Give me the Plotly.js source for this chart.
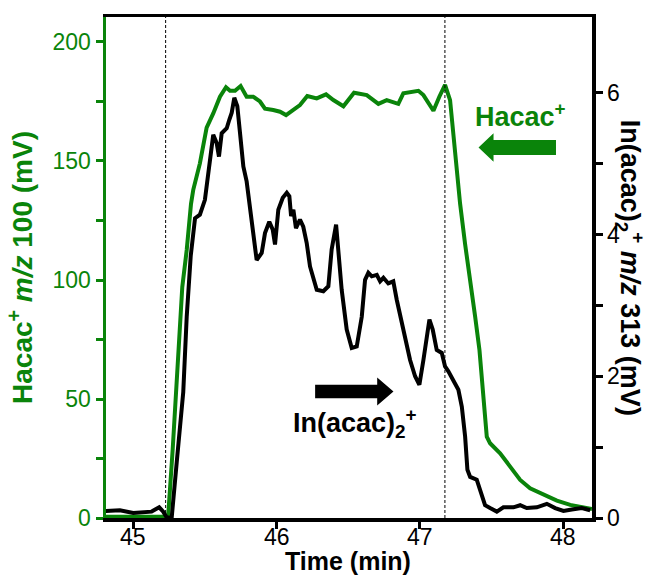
<!DOCTYPE html>
<html>
<head>
<meta charset="utf-8">
<script src="https://cdn.plot.ly/plotly-3.0.1.min.js"></script>
<style>html,body{margin:0;padding:0;background:#fff;}#chart{width:651px;height:577px;}</style>
</head>
<body>
<div id="chart"></div>
<script>
// Hacac+ m/z 100 (left axis, mV)
const hacacTime = [44.81,45.12,45.20,45.244,45.275,45.342,45.373,45.403,45.419,45.465,45.512,45.558,45.605,45.647,45.675,45.710,45.749,45.791,45.837,45.884,45.919,45.977,46.024,46.066,46.117,46.163,46.214,46.280,46.345,46.396,46.466,46.540,46.629,46.710,46.768,46.849,46.884,46.989,47.024,47.094,47.135,47.175,47.210,47.233,47.257,47.280,47.315,47.338,47.350,47.385,47.415,47.438,47.466,47.489,47.559,47.629,47.699,47.768,47.861,47.955,48.048,48.164,48.20];
const hacacSignal = [0.5,0.8,0.5,1.2,28.6,97,112.6,132,138,149,164,170,177,181,179.5,179.5,181.5,177,177,175,172,171.4,170.7,169.3,171.4,173.5,177.3,176.3,178,175.6,173,178.7,177.7,174,175.6,174,178.4,179.5,177.7,171.1,177,182,175.6,160,146,132,115,104,98.7,84.6,70.6,53.8,34.2,31.4,27.2,21.6,16,12.5,9.7,7.3,5.5,4.1,3.8];

// In(acac)2+ m/z 313 (right axis, mV)
const inTime = [44.809,44.907,45.0,45.068,45.128,45.181,45.209,45.233,45.268,45.303,45.314,45.349,45.373,45.401,45.431,45.465,45.500,45.523,45.558,45.582,45.598,45.617,45.652,45.670,45.687,45.705,45.726,45.745,45.768,45.791,45.814,45.837,45.861,45.896,45.919,45.949,45.973,45.989,46.012,46.043,46.071,46.089,46.101,46.117,46.135,46.163,46.186,46.210,46.233,46.280,46.326,46.361,46.384,46.415,46.431,46.454,46.489,46.524,46.559,46.594,46.617,46.640,46.664,46.699,46.722,46.745,46.779,46.814,46.838,46.884,46.931,46.966,46.996,47.024,47.066,47.089,47.117,47.152,47.175,47.198,47.222,47.268,47.292,47.315,47.331,47.350,47.396,47.419,47.454,47.489,47.536,47.582,47.652,47.699,47.745,47.815,47.885,47.943,48.001,48.059,48.129,48.187];
const inSignal = [0.10,0.11,0.07,0.08,0.09,0.15,0.09,0.01,0.0,0.78,1.0,1.78,2.84,3.7,4.23,4.28,4.49,4.87,5.41,5.29,5.10,5.43,5.50,5.62,5.72,5.93,5.81,5.43,4.96,4.75,4.40,3.97,3.64,3.74,4.02,4.18,4.07,3.86,4.35,4.52,4.59,4.54,4.26,4.35,4.09,4.21,4.11,3.88,3.55,3.22,3.20,3.27,3.79,4.14,3.74,3.22,2.66,2.40,2.42,2.84,3.36,3.46,3.41,3.43,3.34,3.39,3.31,3.34,3.08,2.66,2.23,2.00,1.88,2.23,2.80,2.66,2.37,2.33,2.14,2.07,1.97,1.81,1.57,1.15,0.68,0.58,0.54,0.40,0.18,0.14,0.09,0.15,0.15,0.18,0.14,0.15,0.20,0.14,0.10,0.12,0.14,0.11];

const xTicks = [45,46,47,48];
const xTickText = ['45','46','47','48'];
const leftTickVals = [0,50,100,150,200];
const leftMinorVals = [25,75,125,175];
const rightTickVals = [0,2,4,6];
const rightMinorVals = [1,3,5];
const markerTimes = [45.226,47.174];

const GREEN = '#0a840a';
const FONT = 'Liberation Sans, Arial, sans-serif';

// plot area in pixels (for decorations)
const PL = 106, PR = 591.7, PT = 17, PB = 518;
const px = v => (v - PL) / (PR - PL);
const py = v => (PB - v) / (PB - PT);
function arrowPath(pts){ return 'M' + pts.map(p => px(p[0]).toFixed(4)+','+py(p[1]).toFixed(4)).join(' L') + ' Z'; }

const traces = [
  {x: hacacTime, y: hacacSignal, type:'scatter', mode:'lines', line:{color:GREEN, width:4}, yaxis:'y', showlegend:false},
  {x: inTime, y: inSignal, type:'scatter', mode:'lines', line:{color:'#000', width:4}, yaxis:'y2', showlegend:false}
];

const shapes = markerTimes.map(t => ({type:'line', xref:'x', yref:'paper', x0:t, x1:t, y0:0, y1:1, line:{color:'#000', width:1, dash:'3px,2px'}}));
shapes.push({type:'path', xref:'paper', yref:'paper', fillcolor:GREEN, line:{width:0},
  path: arrowPath([[478.3,147.5],[493.3,133.3],[493.3,140],[555.7,140],[555.7,155],[493.3,155],[493.3,161.7]])});
shapes.push({type:'path', xref:'paper', yref:'paper', fillcolor:'#000', line:{width:0},
  path: arrowPath([[393.3,391.5],[377,377.5],[377,384.8],[315,384.8],[315,398.3],[377,398.3],[377,405.5]])});

// x tick labels placed just under the tick marks, as in the reference
const xTickLabels = xTicks.map((v, i) => ({xref:'x', yref:'paper', x:v, y:py(537), text:xTickText[i], showarrow:false,
  xanchor:'center', yanchor:'middle', font:{family:FONT, size:23, color:'#000'}}));

const layout = {
  width:651, height:577,
  margin:{l:106, r:59.3, t:17, b:59},
  paper_bgcolor:'#fff', plot_bgcolor:'#fff',
  font:{family:FONT, size:23, color:'#000'},
  xaxis:{range:[44.81,48.2], tickmode:'array', tickvals:xTicks, showticklabels:false, ticks:'outside', ticklen:7, tickwidth:3, tickcolor:'#000',
    showline:true, linewidth:3.5, linecolor:'#000', mirror:true, showgrid:false, zeroline:false},
  yaxis:{range:[0,210.5], tickmode:'array', tickvals:leftTickVals, ticks:'outside', ticklen:7, tickwidth:3, tickcolor:GREEN,
    minor:{tickmode:'array', tickvals:leftMinorVals, ticks:'outside', ticklen:7, tickwidth:3, tickcolor:GREEN, showgrid:false},
    showline:true, linewidth:3.5, linecolor:GREEN, showgrid:false, zeroline:false,
    tickfont:{family:FONT, size:23, color:GREEN},
    title:{text:'<b>Hacac<sup>+</sup> <i>m/z</i> 100 (mV)</b>', font:{family:FONT, size:28, color:GREEN}, standoff:12}},
  yaxis2:{range:[0,7.07], overlaying:'y', side:'right', tickmode:'array', tickvals:rightTickVals, ticks:'outside', ticklen:7, tickwidth:3, tickcolor:'#000',
    minor:{tickmode:'array', tickvals:rightMinorVals, ticks:'outside', ticklen:7, tickwidth:3, tickcolor:'#000', showgrid:false},
    showline:true, linewidth:3.5, linecolor:'#000', showgrid:false, zeroline:false,
    tickfont:{family:FONT, size:23, color:'#000'}},
  shapes: shapes,
  annotations: xTickLabels.concat([
    {xref:'paper', yref:'paper', x:px(348), y:py(561), text:'<b>Time (min)</b>', showarrow:false, xanchor:'center', yanchor:'middle',
      font:{family:FONT, size:25, color:'#000'}},
    {xref:'paper', yref:'paper', x:px(630), y:py(268), text:'<b>In(acac)<sub>2</sub><sup>+</sup> <i>m/z</i> 313 (mV)</b>', textangle:90, showarrow:false,
      xanchor:'center', yanchor:'middle', font:{family:FONT, size:27, color:'#000'}},
    {xref:'paper', yref:'paper', x:px(520), y:py(115), text:'<b>Hacac<sup>+</sup></b>', showarrow:false, xanchor:'center', yanchor:'middle',
      font:{family:FONT, size:27, color:GREEN}},
    {xref:'paper', yref:'paper', x:px(355), y:py(423), text:'<b>In(acac)<sub>2</sub><sup>+</sup></b>', showarrow:false, xanchor:'center', yanchor:'middle',
      font:{family:FONT, size:27, color:'#000'}}
  ])
};

Plotly.newPlot('chart', traces, layout, {displayModeBar:false, staticPlot:true});
</script>
</body>
</html>
